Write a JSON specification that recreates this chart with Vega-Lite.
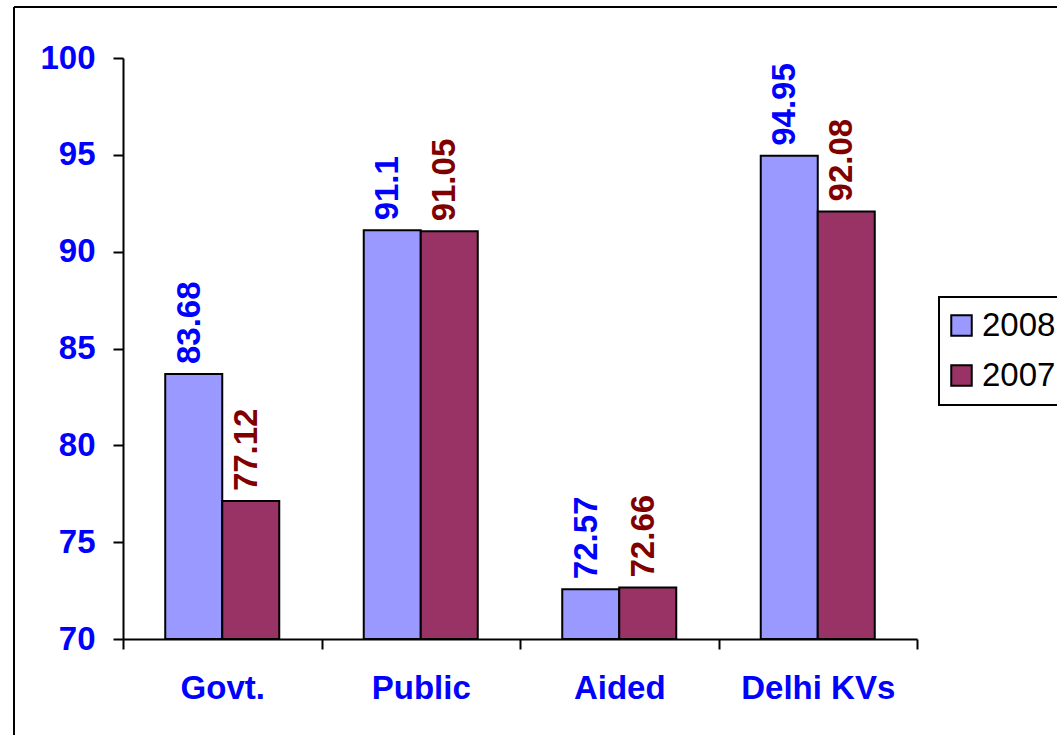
{
  "$schema": "https://vega.github.io/schema/vega-lite/v6.json",
  "width": 1043,
  "height": 728,
  "autosize": {"type": "none"},
  "padding": {"left": 14, "top": 7, "right": 0, "bottom": 0},
  "background": "white",
  "config": {
    "view": {"stroke": "black", "strokeWidth": 2, "strokeDash": [1043, 1771, 728, 0]},
    "font": "Liberation Sans",
    "legend": {"strokeWidth": 2}
  },
  "data": {
    "values": [
      {"school": "Govt.", "year": "2008", "value": 83.68},
      {"school": "Govt.", "year": "2007", "value": 77.12},
      {"school": "Public", "year": "2008", "value": 91.1},
      {"school": "Public", "year": "2007", "value": 91.05},
      {"school": "Aided", "year": "2008", "value": 72.57},
      {"school": "Aided", "year": "2007", "value": 72.66},
      {"school": "Delhi KVs", "year": "2008", "value": 94.95},
      {"school": "Delhi KVs", "year": "2007", "value": 92.08}
    ]
  },
  "encoding": {
    "x": {
      "field": "school",
      "type": "nominal",
      "sort": ["Govt.", "Public", "Aided", "Delhi KVs"],
      "scale": {"range": [109, 903], "paddingInner": 0, "paddingOuter": 0},
      "axis": {
        "title": null,
        "orient": "bottom",
        "offset": -96,
        "tickBand": "extent",
        "tickSize": 10,
        "tickColor": "black",
        "tickWidth": 2,
        "domainColor": "black",
        "domainWidth": 2,
        "labelFont": "Liberation Sans",
        "labelFontSize": 33,
        "labelFontWeight": "bold",
        "labelColor": "#0000FF",
        "labelPadding": 23,
        "labelAngle": 0
      }
    },
    "xOffset": {
      "field": "year",
      "type": "nominal",
      "sort": ["2008", "2007"],
      "scale": {"paddingInner": 0, "paddingOuter": 0.741}
    },
    "y": {
      "field": "value",
      "type": "quantitative",
      "scale": {"domain": [70, 100], "range": [632, 51], "nice": false, "zero": false},
      "axis": {
        "title": null,
        "offset": -109,
        "values": [70, 75, 80, 85, 90, 95, 100],
        "grid": false,
        "tickSize": 10,
        "tickColor": "black",
        "tickWidth": 2,
        "domainColor": "black",
        "domainWidth": 2,
        "labelFont": "Liberation Sans",
        "labelFontSize": 33,
        "labelFontWeight": "bold",
        "labelColor": "#0000FF",
        "labelPadding": 18
      }
    }
  },
  "layer": [
    {
      "mark": {"type": "bar", "stroke": "black", "strokeWidth": 2},
      "encoding": {
        "y2": {"datum": 70},
        "color": {
          "field": "year",
          "type": "nominal",
          "sort": ["2008", "2007"],
          "scale": {"domain": ["2008", "2007"], "range": ["#9999FF", "#993366"]},
          "legend": {
            "title": null,
            "orient": "none",
            "legendX": 925,
            "legendY": 290,
            "symbolType": "square",
            "symbolSize": 420,
            "symbolStrokeColor": "black",
            "symbolStrokeWidth": 2,
            "symbolOffset": -6,
            "labelFont": "Liberation Sans",
            "labelFontSize": 33,
            "labelColor": "black",
            "labelOffset": 4,
            "rowPadding": 16,
            "padding": 12,
            "strokeColor": "black",
            "fillColor": "white"
          }
        }
      }
    },
    {
      "mark": {
        "type": "text",
        "angle": 270,
        "align": "left",
        "baseline": "middle",
        "dx": 10,
        "dy": -4,
        "fontSize": 33,
        "fontWeight": "bold",
        "font": "Liberation Sans"
      },
      "encoding": {
        "text": {"field": "value", "type": "quantitative", "format": ".4~r"},
        "color": {
          "condition": {"test": "datum.year === '2008'", "value": "#0000FF"},
          "value": "#800000"
        }
      }
    }
  ]
}
